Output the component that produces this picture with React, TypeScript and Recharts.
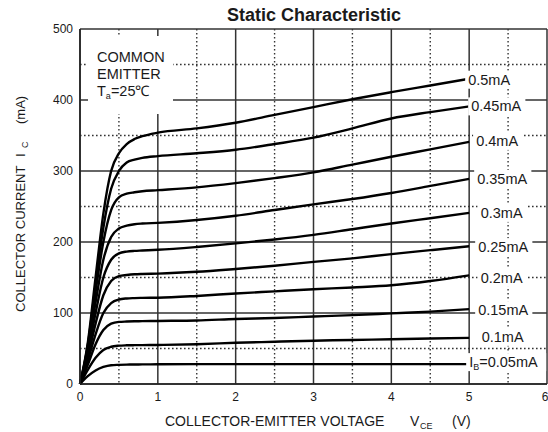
import React from 'react';
import { LineChart, Line, XAxis, YAxis, CartesianGrid, LabelList } from 'recharts';

// collector-emitter voltage (V), shared by every curve
const VCE = [0, 0.1, 0.2, 0.3, 0.4, 0.5, 0.6, 0.7, 0.8, 1, 1.5, 2, 2.5, 3, 3.5, 4, 4.5, 5];

// collector current (mA) for each base current
const IB_005 = [0, 11, 19, 24, 26.5, 27, 27.3, 27.5, 27.6, 27.8, 28, 28, 28, 28, 28, 28, 28, 28];
const IB_010 = [0, 20, 37, 48, 52.5, 54, 54.5, 54.7, 54.8, 55, 56, 58, 59.5, 61, 62, 63, 64, 65];
const IB_015 = [0, 27, 56, 76, 85, 87.5, 88, 88.3, 88.5, 88.8, 89.5, 91.5, 93, 95, 97, 99.5, 102, 105.5];
const IB_020 = [0, 33, 70, 100, 114, 119, 120.5, 121, 121.3, 121.5, 124, 127.5, 130.5, 133.5, 136, 139, 145, 153];
const IB_025 = [0, 38, 85, 125, 145, 152, 153.5, 154.5, 155, 155.5, 158, 162, 166.5, 172, 177, 183, 188.5, 194];
const IB_030 = [0, 43, 100, 150, 175, 184, 186.5, 187.5, 188, 189, 193, 198, 203.5, 210, 218, 226, 233.5, 241];
const IB_035 = [0, 48, 115, 175, 207, 219, 223, 225, 226, 227, 231, 237, 245, 253, 260.5, 269, 279, 289];
const IB_040 = [0, 52, 130, 200, 245, 263, 268, 270, 271.5, 273, 277, 283, 290, 298, 309, 320, 330.5, 341];
const IB_045 = [0, 55, 140, 220, 275, 300, 312, 316, 318.5, 321, 325, 330, 338, 347, 360, 374, 383, 391];
const IB_050 = [0, 58, 150, 240, 300, 325, 338, 345, 349, 354, 360, 368, 379, 390, 401, 411, 420.5, 430];

const CURVES = [IB_005, IB_010, IB_015, IB_020, IB_025, IB_030, IB_035, IB_040, IB_045, IB_050];
const CURVE_LABELS = ['0.05mA', '0.1mA', '0.15mA', '0.2mA', '0.25mA', '0.3mA', '0.35mA', '0.4mA', '0.45mA', '0.5mA'];

const X_TICKS = [0, 1, 2, 3, 4, 5, 6];
const X_HALF = [0.5, 1.5, 2.5, 3.5, 4.5, 5.5];
const Y_TICKS = [0, 100, 200, 300, 400, 500];
const Y_HALF = [50, 150, 250, 350, 450];

// where each end label sits relative to the end of its curve
const LABEL_OFFSETS = [
  { dx: 0, dy: -2 },
  { dx: 12.5, dy: -1 },
  { dx: 9, dy: 1 },
  { dx: 11.5, dy: 2.5 },
  { dx: 9, dy: 1 },
  { dx: 11.5, dy: 0 },
  { dx: 8, dy: 0 },
  { dx: 7, dy: -1 },
  { dx: 2, dy: 0 },
  { dx: -1, dy: 1 },
];

const FONT = '"Liberation Sans", Arial, sans-serif';
const TEXT = '#1a1a1a';

const endLabel = (idx: number) => (props: any) => {
  const { x, y, index } = props;
  if (index !== VCE.length - 1) return null;
  const off = LABEL_OFFSETS[idx];
  const tx = x + off.dx;
  const ty = y + off.dy;
  const isBase = idx === 0;
  const w = isBase ? 74 : CURVE_LABELS[idx].length * 8.2 + 2;
  return (
    <g>
      <rect x={tx - 3} y={ty - 9} width={w + 6} height={18} fill="#fff" />
      <text x={tx} y={ty} dominantBaseline="central" fontFamily={FONT} fontSize={14.5} fill={TEXT}>
        {isBase ? (
          <>
            <tspan>I</tspan>
            <tspan fontSize={9} dy={5}>B</tspan>
            <tspan dy={-5}>={CURVE_LABELS[idx]}</tspan>
          </>
        ) : (
          CURVE_LABELS[idx]
        )}
      </text>
    </g>
  );
};

const App: React.FC = () => {
  const seriesData = CURVES.map((vals) => VCE.map((v, i) => ({ vce: v, ic: vals[i] })));

  return (
    <div style={{ position: 'relative', width: 548, height: 432, background: '#fff' }}>
      <style>{'body{margin:0}'}</style>
      <LineChart width={548} height={432} margin={{ top: 29, right: 1, bottom: 0, left: 0 }}>
        <CartesianGrid
          horizontalValues={Y_HALF}
          verticalValues={X_HALF}
          stroke="#333"
          strokeWidth={1.4}
          strokeDasharray="1.6 2.4"
        />
        <CartesianGrid horizontalValues={Y_TICKS} verticalValues={X_TICKS} stroke="#333" strokeWidth={1.5} />
        <XAxis
          dataKey="vce"
          type="number"
          domain={[0, 6]}
          ticks={X_TICKS}
          height={48}
          tickLine={false}
          tickSize={0}
          tickMargin={8}
          axisLine={{ stroke: '#222', strokeWidth: 1.6 }}
          tick={{ fontSize: 12, fill: TEXT, fontFamily: FONT }}
          allowDuplicatedCategory={false}
        />
        <YAxis
          type="number"
          domain={[0, 500]}
          ticks={Y_TICKS}
          width={80}
          tickLine={false}
          tickSize={0}
          tickMargin={7}
          axisLine={{ stroke: '#222', strokeWidth: 1.6 }}
          tick={{ fontSize: 12, fill: TEXT, fontFamily: FONT }}
        />
        {seriesData.map((d, idx) => (
          <Line
            key={CURVE_LABELS[idx]}
            data={d}
            dataKey="ic"
            type="monotone"
            stroke="#000"
            strokeWidth={2.4}
            dot={false}
            isAnimationActive={false}
          >
            <LabelList dataKey="ic" content={endLabel(idx)} />
          </Line>
        ))}
      </LineChart>
      <svg
        width={548}
        height={432}
        style={{ position: 'absolute', left: 0, top: 0, pointerEvents: 'none' }}
        fontFamily={FONT}
      >
        <text x={314} y={21} textAnchor="middle" fontSize={18} fontWeight="bold" fill={TEXT}>
          Static Characteristic
        </text>
        <rect x={88} y={36} width={85} height={78} fill="#fff" />
        <text fontSize={14.5} fill={TEXT} dominantBaseline="central">
          <tspan x={97} y={57}>COMMON</tspan>
          <tspan x={97} y={74}>EMITTER</tspan>
        </text>
        <text x={97} y={91} fontSize={14.5} fill={TEXT} dominantBaseline="central">
          <tspan>T</tspan>
          <tspan fontSize={9} dy={5}>a</tspan>
          <tspan dy={-5}>=25℃</tspan>
        </text>
        <text y={421} fontSize={14} fill={TEXT} dominantBaseline="central">
          <tspan x={165}>COLLECTOR-EMITTER VOLTAGE</tspan>
          <tspan x={410}>V</tspan>
          <tspan x={420} fontSize={9} dy={5}>CE</tspan>
          <tspan x={452} dy={-5}>(V)</tspan>
        </text>
        <g transform="translate(19.5,0) rotate(-90)">
          <text y={0} fontSize={13} fill={TEXT} dominantBaseline="central">
            <tspan x={-312}>COLLECTOR CURRENT</tspan>
            <tspan x={-157}>I</tspan>
            <tspan x={-148} fontSize={9} dy={5}>C</tspan>
            <tspan x={-124} dy={-5}>(mA)</tspan>
          </text>
        </g>
      </svg>
    </div>
  );
};

export default App;
